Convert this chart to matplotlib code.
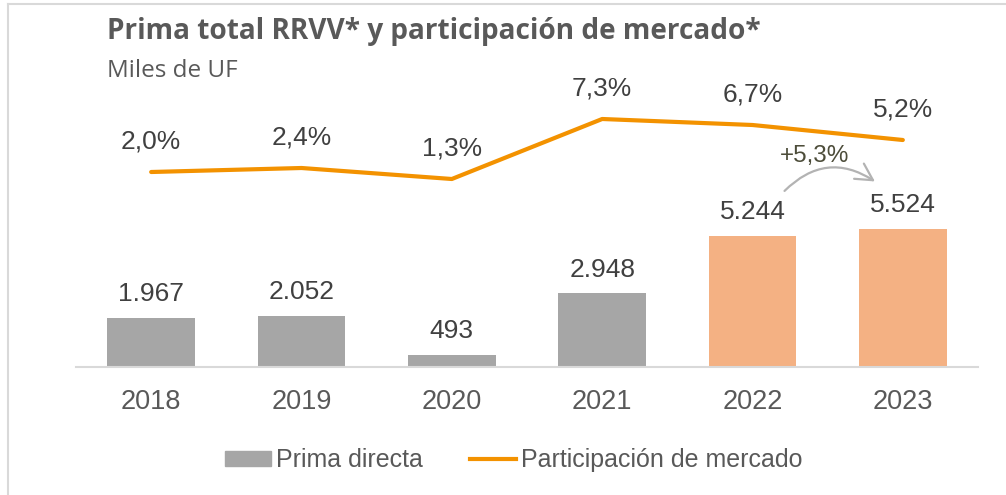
import matplotlib.pyplot as plt
from matplotlib.patches import Patch
from matplotlib.lines import Line2D

years = ['2018', '2019', '2020', '2021', '2022', '2023']
prima = [1967, 2052, 493, 2948, 5244, 5524]
prima_labels = ['1.967', '2.052', '493', '2.948', '5.244', '5.524']
participacion = [2.0, 2.4, 1.3, 7.3, 6.7, 5.2]
part_labels = ['2,0%', '2,4%', '1,3%', '7,3%', '6,7%', '5,2%']
bar_colors = ['#A6A6A6', '#A6A6A6', '#A6A6A6', '#A6A6A6', '#F4B183', '#F4B183']

plt.rcParams['font.family'] = ['Liberation Sans', 'DejaVu Sans']

fig = plt.figure(figsize=(10.06, 4.95), dpi=100)
ax = fig.add_axes([76/1006, 128/495, 902/1006, 307/495])
x = list(range(len(years)))

ax.bar(x, prima, width=0.585, color=bar_colors, zorder=2)
ax.set_xlim(-0.5, 5.5)
ax.set_ylim(0, 12280)
for xi, v, lab in zip(x, prima, prima_labels):
    ax.annotate(lab, (xi, v), xytext=(0, 17), textcoords='offset points',
                ha='center', va='center', fontsize=19, color='#404040')

ax.set_xticks(x)
ax.set_xticklabels(years, fontsize=19.5, color='#595959')
ax.tick_params(axis='x', length=0, pad=16)
ax.set_yticks([])
for s in ['top', 'right', 'left']:
    ax.spines[s].set_visible(False)
ax.spines['bottom'].set_color('#D9D9D9')
ax.spines['bottom'].set_linewidth(1.5)

ax2 = ax.twinx()
ax2.plot(x, participacion, color='#F39200', linewidth=3, solid_capstyle='round', zorder=3)
ax2.set_ylim(-17.5, 13.2)
ax2.set_yticks([])
for s in ax2.spines.values():
    s.set_visible(False)
for xi, v, lab in zip(x, participacion, part_labels):
    ax2.annotate(lab, (xi, v), xytext=(0, 22), textcoords='offset points',
                 ha='center', va='center', fontsize=19, color='#404040')

# curved growth arrow between 2022 and 2023
ax.annotate('', xy=(4.83, prima[5] + 1836), xytext=(4.2, prima[4] + 1720),
            arrowprops=dict(arrowstyle='->,head_length=1.2,head_width=0.65',
                            color='#B3B3B3', lw=1.6,
                            connectionstyle='arc3,rad=-0.42'))
ax.text(4.41, prima[4] + 3200, '+5,3%', ha='center', va='center',
        fontsize=17.5, color='#4D4D3A')

fig.text(107/1006, 1 - 32/495, 'Prima total RRVV* y participación de mercado*',
         fontsize=20.2, fontweight='bold', color='#595959', va='center',
         family='Open Sans')
fig.text(107/1006, 1 - 71/495, 'Miles de UF', fontsize=17.5, color='#595959',
         va='center', family='Open Sans')

handles = [Patch(color='#A6A6A6'), Line2D([], [], color='#F39200', lw=3)]
fig.legend(handles, ['Prima directa', 'Participación de mercado'], loc='center',
           bbox_to_anchor=(514/1006, 1 - 460/495), ncol=2, frameon=False,
           fontsize=18, handlelength=1.84, handleheight=0.56, handletextpad=0.2,
           columnspacing=1.9, labelcolor='#595959')

# light frame on top and left
fig.add_artist(Line2D([8/1006, 8/1006], [0, 1 - 4/495], color='#D9D9D9', lw=1.5))
fig.add_artist(Line2D([8/1006, 1], [1 - 4/495, 1 - 4/495], color='#D9D9D9', lw=1.5))

fig.savefig('out.png', dpi=100)
